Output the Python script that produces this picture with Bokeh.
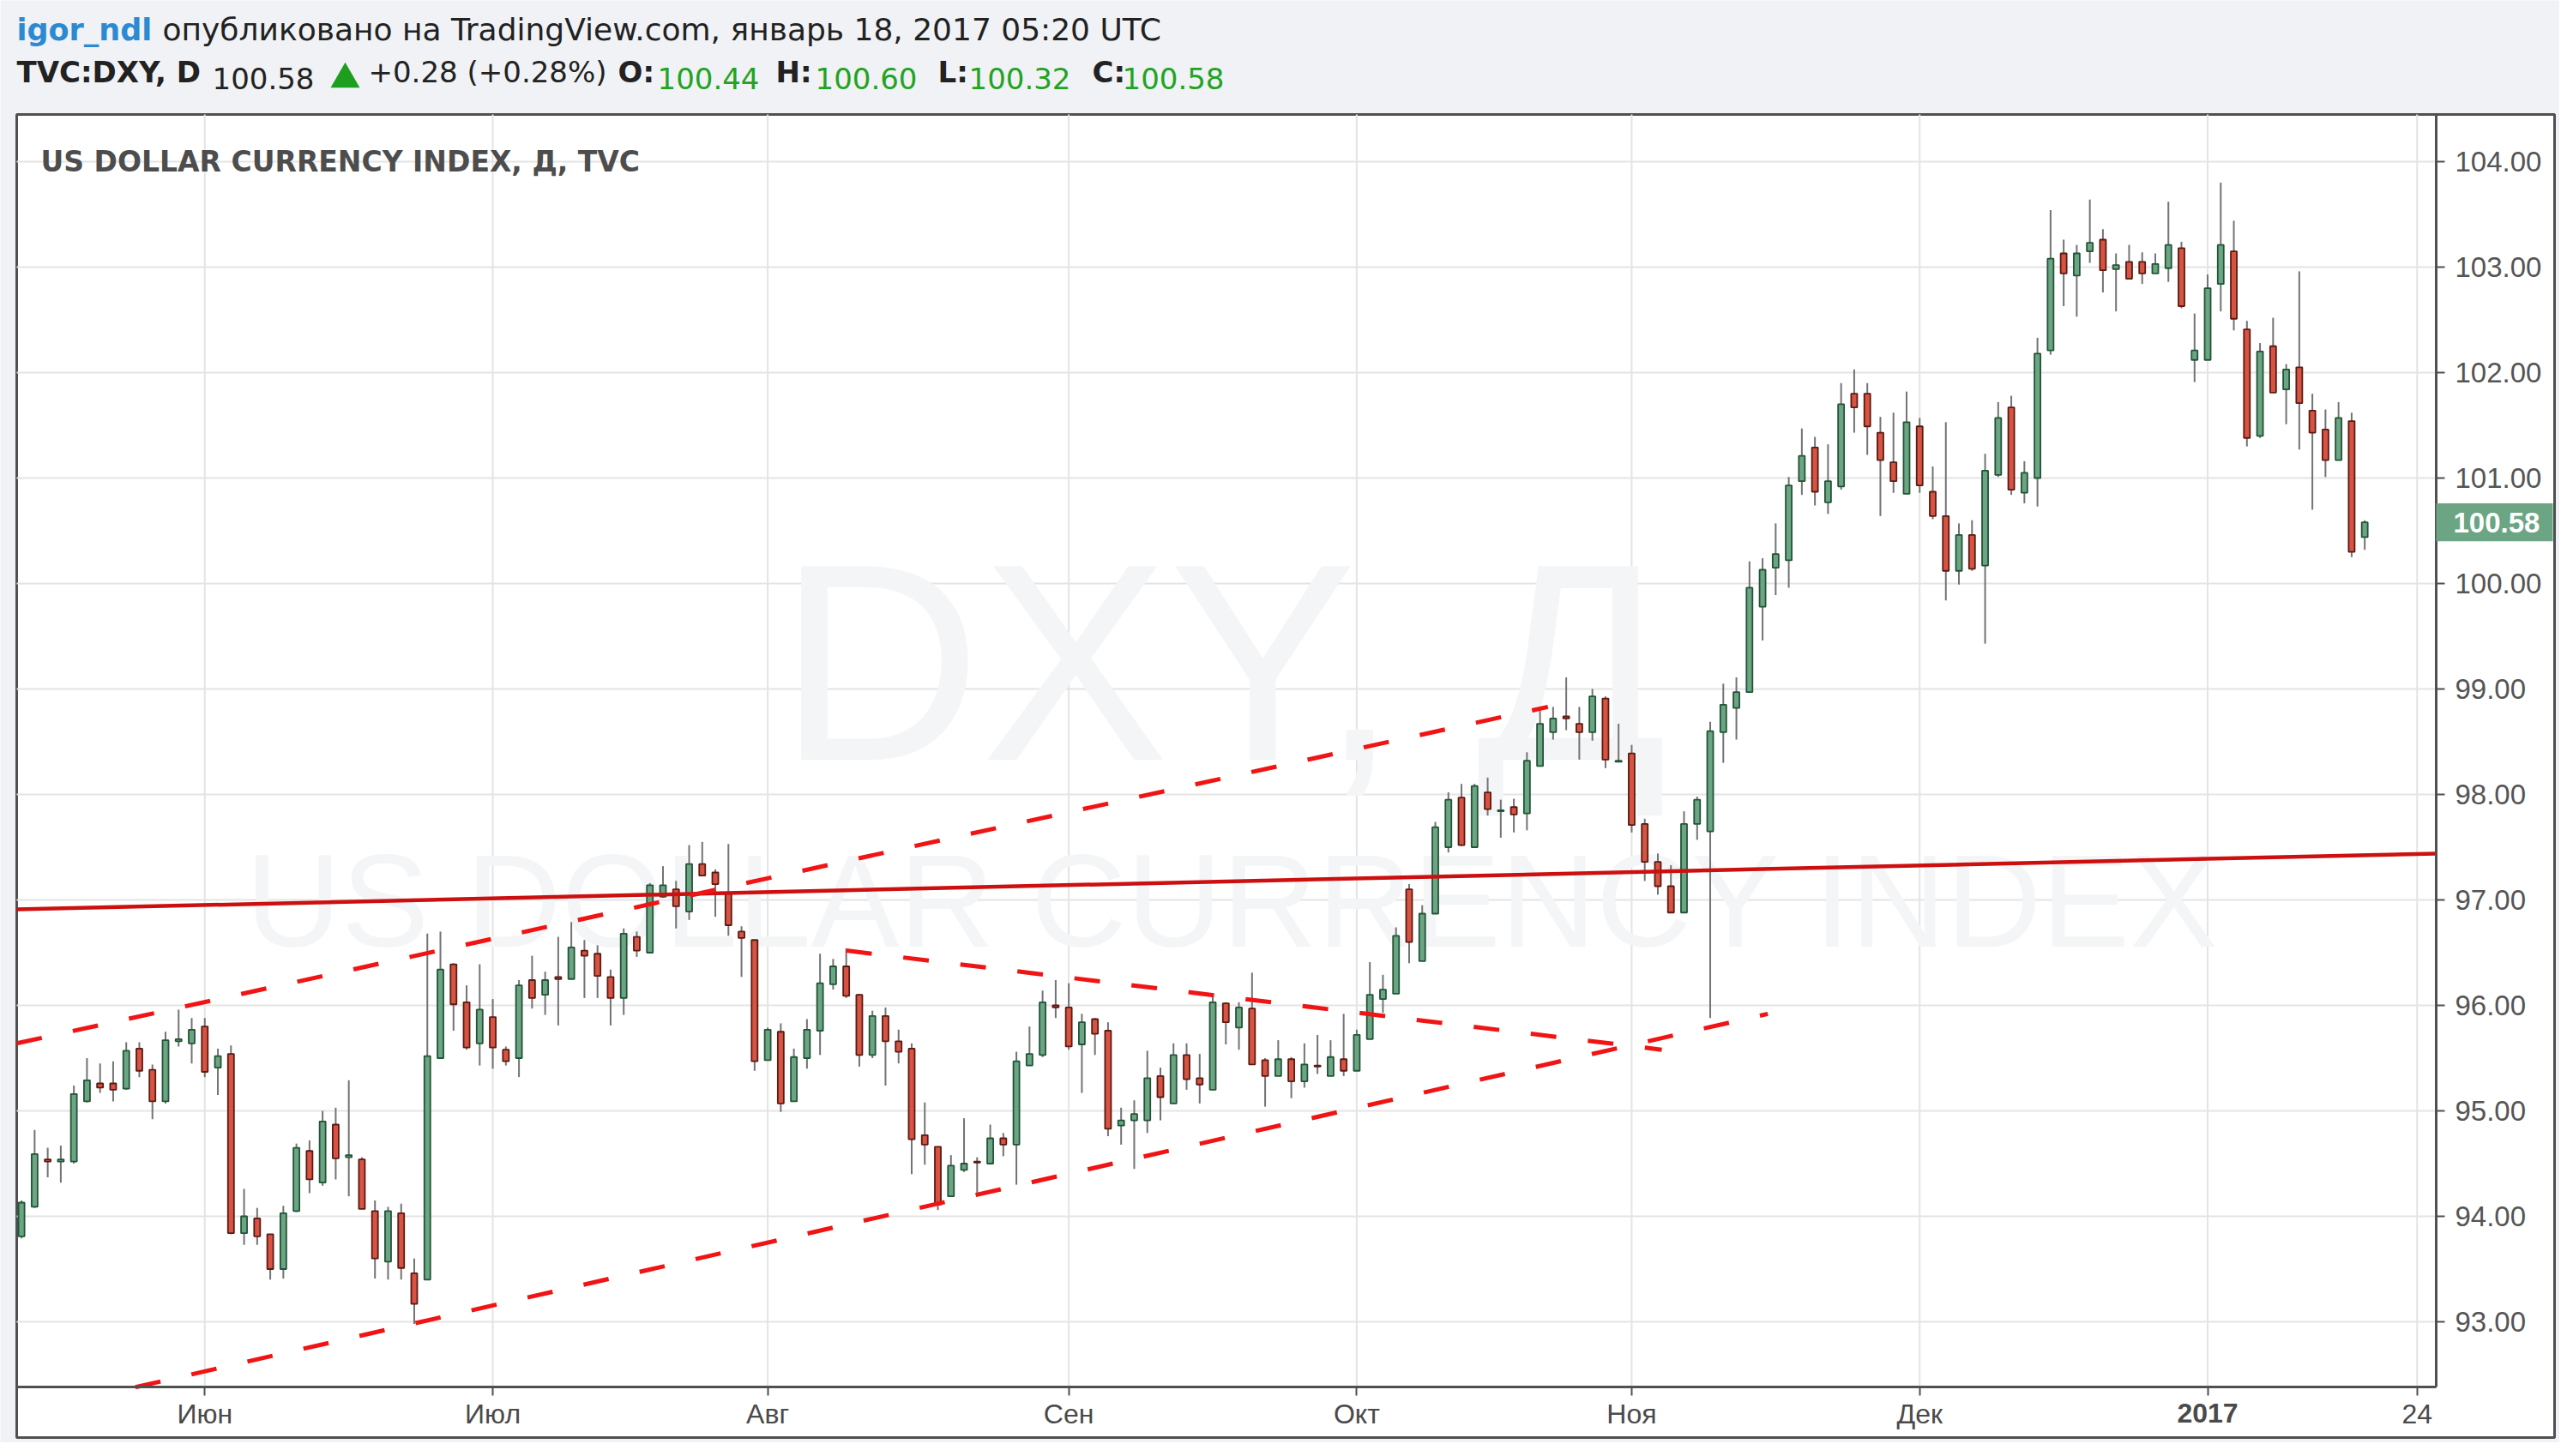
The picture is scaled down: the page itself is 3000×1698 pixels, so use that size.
import pandas as pd
from bokeh.plotting import figure
from bokeh.models import (Range1d, LinearAxis, FixedTicker, NumeralTickFormatter,
                          ColumnDataSource)
from bokeh.core.properties import value
from bokeh.embed import file_html
from bokeh.resources import INLINE

# ---------------- data ----------------
START_DATE = "2016-05-12"   # first daily candle; one candle per weekday

OPEN = [93.81, 94.09, 94.54, 94.52, 94.52, 95.09, 95.26, 95.26, 95.21, 95.59,
        95.39, 95.09, 95.66, 95.64, 95.80, 95.41, 95.54, 93.84, 93.98, 93.83,
        93.50, 94.05, 94.62, 94.32, 94.87, 94.56, 94.54, 94.05, 93.57, 94.03,
        93.46, 93.40, 95.50, 96.39, 96.03, 95.64, 95.89, 95.58, 95.50, 96.24,
        96.10, 96.27, 96.25, 96.52, 96.49, 96.27, 96.07, 96.65, 96.50, 97.03,
        97.10, 96.89, 97.34, 97.26, 97.07, 96.70, 96.62, 95.48, 95.75, 95.09,
        95.50, 95.76, 96.20, 96.37, 96.10, 95.53, 95.90, 95.66, 95.59, 94.77,
        94.66, 94.19, 94.44, 94.52, 94.50, 94.74, 94.68, 95.43, 95.53, 96.00,
        95.98, 95.63, 95.87, 95.76, 94.86, 94.91, 94.91, 95.33, 95.07, 95.53,
        95.31, 95.20, 96.02, 95.79, 95.97, 95.48, 95.33, 95.49, 95.28, 95.43,
        95.33, 95.49, 95.38, 95.68, 96.06, 96.11, 97.10, 96.42, 96.87, 97.50,
        97.97, 97.50, 98.02, 97.84, 97.88, 97.82, 98.27, 98.59, 98.74, 98.67,
        98.59, 98.91, 98.31, 98.39, 97.72, 97.36, 97.13, 96.88, 97.72, 97.65,
        98.59, 98.82, 98.97, 99.78, 100.15, 100.22, 100.97, 101.29, 100.77, 100.92,
        101.80, 101.80, 101.43, 101.15, 100.85, 101.49, 100.87, 100.64, 100.12, 100.46,
        100.17, 101.03, 101.67, 100.86, 101.00, 102.21, 103.13, 102.92, 103.15, 103.26,
        102.98, 103.05, 103.05, 102.94, 102.99, 103.18, 102.12, 102.12, 102.84, 103.15,
        102.41, 101.40, 102.25, 101.84, 102.05, 101.64, 101.46, 101.17, 101.54, 100.44]

HIGH = [94.15, 94.82, 94.65, 94.67, 95.24, 95.50, 95.45, 95.47, 95.65, 95.65,
        95.44, 95.75, 95.96, 95.88, 95.88, 95.59, 95.62, 94.26, 94.08, 93.83,
        94.10, 94.69, 94.72, 95.00, 95.03, 95.29, 94.56, 94.15, 94.09, 94.12,
        93.60, 96.68, 96.70, 96.40, 96.19, 96.39, 96.06, 95.61, 96.24, 96.47,
        96.32, 96.65, 96.79, 96.62, 96.57, 96.34, 96.73, 96.70, 97.16, 97.32,
        97.18, 97.52, 97.55, 97.29, 97.53, 96.75, 96.62, 95.79, 95.83, 95.59,
        95.87, 96.49, 96.44, 96.54, 96.11, 95.95, 95.98, 95.77, 95.64, 95.08,
        94.66, 94.58, 94.93, 94.56, 94.87, 94.79, 95.56, 95.80, 96.14, 96.24,
        96.21, 95.92, 95.88, 95.84, 95.03, 95.10, 95.57, 95.41, 95.64, 95.64,
        95.54, 96.09, 96.03, 96.03, 96.31, 95.50, 95.67, 95.51, 95.64, 95.72,
        95.67, 95.92, 95.77, 96.41, 96.29, 96.74, 97.15, 96.95, 97.74, 98.02,
        98.10, 98.10, 98.16, 97.95, 97.96, 98.40, 98.80, 98.83, 99.11, 98.83,
        99.00, 98.93, 98.67, 98.47, 97.77, 97.44, 97.33, 97.84, 97.98, 98.69,
        99.05, 99.11, 100.21, 100.24, 100.57, 101.01, 101.47, 101.39, 101.32, 101.90,
        102.03, 101.90, 101.58, 101.62, 101.82, 101.57, 101.11, 101.53, 100.57, 100.60,
        101.23, 101.72, 101.78, 101.16, 102.33, 103.54, 103.26, 103.21, 103.64, 103.36,
        103.13, 103.21, 103.14, 103.13, 103.62, 103.24, 102.56, 102.93, 103.80, 103.44,
        102.49, 102.28, 102.52, 102.08, 102.96, 101.80, 101.65, 101.72, 101.62, 100.60]

LOW = [93.79, 94.08, 94.37, 94.32, 94.50, 95.08, 95.17, 95.09, 95.20, 95.32,
       94.92, 95.07, 95.61, 95.45, 95.32, 95.15, 93.83, 93.73, 93.73, 93.40,
       93.41, 94.04, 94.22, 94.29, 94.35, 94.19, 94.07, 93.41, 93.40, 93.40,
       92.98, 93.40, 95.50, 95.76, 95.58, 95.43, 95.40, 95.43, 95.32, 95.97,
       95.91, 95.81, 96.25, 96.07, 96.07, 95.81, 95.91, 96.46, 96.50, 97.02,
       96.73, 96.81, 97.23, 96.84, 96.66, 96.27, 95.38, 95.48, 94.99, 95.09,
       95.40, 95.53, 96.15, 96.07, 95.42, 95.50, 95.24, 95.45, 94.40, 94.49,
       94.06, 94.19, 94.42, 94.20, 94.50, 94.57, 94.30, 95.43, 95.51, 95.88,
       95.58, 95.17, 95.53, 94.76, 94.68, 94.45, 94.79, 94.91, 95.07, 95.20,
       95.07, 95.20, 95.63, 95.58, 95.44, 95.04, 95.33, 95.12, 95.22, 95.35,
       95.33, 95.33, 95.38, 95.68, 95.93, 96.11, 96.40, 96.42, 96.87, 97.45,
       97.51, 97.50, 97.80, 97.59, 97.64, 97.66, 98.27, 98.52, 98.61, 98.33,
       98.51, 98.25, 98.31, 97.64, 97.18, 97.05, 96.88, 96.88, 97.57, 95.88,
       98.30, 98.52, 98.97, 99.46, 99.89, 99.96, 100.84, 100.74, 100.66, 100.89,
       101.43, 101.22, 100.64, 100.86, 100.85, 100.86, 100.61, 99.84, 99.99, 100.12,
       99.43, 101.01, 100.84, 100.76, 100.73, 102.17, 102.63, 102.53, 103.04, 102.76,
       102.58, 102.89, 102.84, 102.94, 102.86, 102.61, 101.91, 102.12, 102.58, 102.40,
       101.30, 101.38, 101.81, 101.51, 101.27, 100.70, 101.01, 101.17, 100.25, 100.32]

CLOSE = [94.13, 94.59, 94.52, 94.54, 95.16, 95.29, 95.22, 95.20, 95.57, 95.38,
         95.09, 95.67, 95.68, 95.77, 95.37, 95.52, 93.84, 94.00, 93.81, 93.50,
         94.03, 94.65, 94.35, 94.90, 94.55, 94.58, 94.07, 93.60, 94.05, 93.51,
         93.17, 95.52, 96.34, 96.01, 95.60, 95.96, 95.60, 95.47, 96.19, 96.07,
         96.24, 96.25, 96.55, 96.47, 96.28, 96.07, 96.68, 96.52, 97.14, 97.14,
         96.94, 97.34, 97.23, 97.15, 96.76, 96.64, 95.47, 95.77, 95.07, 95.51,
         95.77, 96.21, 96.37, 96.09, 95.53, 95.90, 95.66, 95.56, 94.73, 94.68,
         94.11, 94.48, 94.50, 94.51, 94.74, 94.68, 95.47, 95.54, 96.03, 95.98,
         95.61, 95.84, 95.73, 94.83, 94.91, 94.97, 95.31, 95.13, 95.53, 95.30,
         95.25, 96.03, 95.84, 95.98, 95.44, 95.33, 95.49, 95.28, 95.44, 95.42,
         95.51, 95.38, 95.72, 96.10, 96.15, 96.66, 96.60, 96.87, 97.69, 97.95,
         97.52, 98.08, 97.86, 97.85, 97.81, 98.32, 98.67, 98.72, 98.72, 98.59,
         98.93, 98.33, 98.32, 97.71, 97.36, 97.13, 96.88, 97.72, 97.95, 98.60,
         98.85, 98.97, 99.96, 100.13, 100.28, 100.93, 101.21, 100.87, 100.97, 101.70,
         101.67, 101.49, 101.17, 100.97, 101.53, 100.93, 100.64, 100.12, 100.46, 100.14,
         101.07, 101.57, 100.89, 101.05, 102.18, 103.08, 102.94, 103.13, 103.23, 102.97,
         103.02, 102.89, 102.94, 103.03, 103.21, 102.63, 102.21, 102.80, 103.21, 102.51,
         101.38, 102.20, 101.81, 102.03, 101.71, 101.43, 101.17, 101.57, 100.30, 100.58]

PRICE_TICKS = [93, 94, 95, 96, 97, 98, 99, 100, 101, 102, 103, 104]
TIME_TICK_DATES = ["2016-06-01", "2016-07-01", "2016-08-01", "2016-09-01", "2016-10-03",
                   "2016-11-01", "2016-12-01", "2017-01-02", "2017-01-24"]
TIME_TICK_LABELS = ["Июн", "Июл", "Авг", "Сен", "Окт", "Ноя", "Дек", "2017", "24"]

# hand-drawn lines on the chart: (candle index, price)
RESIST_X, RESIST_Y = [-0.37, 184.45], [96.91, 97.44]
CH_TOP_X, CH_TOP_Y = [-0.37, 116.6], [95.64, 98.83]
CH_BOT_X, CH_BOT_Y = [8.7, 133.4], [92.38, 95.92]
TRI_X, TRI_Y = [63.0, 125.3], [96.52, 95.58]

AUTHOR = "igor_ndl"
PUBLISHED = "опубликовано на TradingView.com, январь 18, 2017 05:20 UTC"
SYMBOL = "TVC:DXY, D"
CHART_TITLE = "US DOLLAR CURRENCY INDEX, Д, TVC"
WM_BIG = "DXY, Д"
WM_SMALL = "US DOLLAR CURRENCY INDEX"

# ---------------- layout (image pixels) ----------------
FIG_W, FIG_H, OFF = 2984, 1682, 0
X0_PX, STEP_PX = 24.6, 15.263        # image x of candle 0, px per candle
Y104_PX, UNIT_PX = 188.0, 123.0      # image y of 104.00, px per 1.00
BOX_L, BOX_T, BOX_R, BOX_B = 19, 133, 2978, 1676
PLOT_R, PLOT_B = 2840, 1617


def ix(px):
    return (px - X0_PX) / STEP_PX


def pr(py):
    return 104.0 - (py - Y104_PX) / UNIT_PX


PAGE_BG = "#f0f2f5"
FRAME = "#505050"
GRID = "#e4e4e4"
UP_FILL, UP_LINE = "#6ba583", "#225437"
DN_FILL, DN_LINE = "#d75442", "#5b1a13"
WICK = "#737375"
VAL_GREEN = "#22a322"

n = len(OPEN)
dates = pd.bdate_range(START_DATE, periods=n)
tick_idx = [len(pd.bdate_range(START_DATE, d)) - 1 for d in TIME_TICK_DATES]

p = figure(width=FIG_W, height=FIG_H, output_backend="svg", toolbar_location=None,
           x_range=Range1d(ix(OFF), ix(OFF + FIG_W)),
           y_range=Range1d(pr(OFF + FIG_H), pr(OFF)),
           x_axis_type=None, y_axis_type=None, min_border=0)
p.min_border_left = p.min_border_right = p.min_border_top = p.min_border_bottom = 0
p.title.visible = False
p.outline_line_color = None
p.background_fill_color = PAGE_BG
p.border_fill_color = PAGE_BG
p.extra_x_ranges = {"px": Range1d(OFF, OFF + FIG_W)}
p.extra_y_ranges = {"py": Range1d(OFF + FIG_H, OFF)}
PX = dict(x_range_name="px", y_range_name="py")

# chart box
p.quad(left=[BOX_L], right=[BOX_R], top=[BOX_T], bottom=[BOX_B], fill_color="white",
       line_color=FRAME, line_width=3, **PX)

# grid
xl, xr = ix(BOX_L), ix(PLOT_R)
yb, yt = pr(PLOT_B), pr(BOX_T)
p.segment(x0=[xl] * len(PRICE_TICKS), x1=[xr] * len(PRICE_TICKS), y0=PRICE_TICKS,
          y1=PRICE_TICKS, line_color=GRID, line_width=2)
p.segment(x0=tick_idx, x1=tick_idx, y0=[yb] * len(tick_idx), y1=[yt] * len(tick_idx),
          line_color=GRID, line_width=2)

# watermark
p.text(x=[ix(1425)], y=[pr(772)], text=[WM_BIG], text_align="center", text_baseline="middle",
       text_font=value("Liberation Sans"), text_font_size="328px", text_color="#f4f5f7")
p.text(x=[ix(1437)], y=[pr(1050)], text=[WM_SMALL], text_align="center",
       text_baseline="middle", text_font=value("Liberation Sans"), text_font_size="154px",
       text_color="#f4f5f7")

# candles
up = [c >= o for o, c in zip(OPEN, CLOSE)]
src = ColumnDataSource(dict(
    x=list(range(n)), date=[d.strftime("%Y-%m-%d") for d in dates],
    high=HIGH, low=LOW,
    top=[max(o, c) for o, c in zip(OPEN, CLOSE)],
    bottom=[min(o, c) for o, c in zip(OPEN, CLOSE)],
    fill=[UP_FILL if u else DN_FILL for u in up],
    line=[UP_LINE if u else DN_LINE for u in up]))
p.segment(x0="x", x1="x", y0="low", y1="high", line_color=WICK, line_width=2, source=src)
p.vbar(x="x", width=0.46, top="top", bottom="bottom", fill_color="fill",
       line_color="line", line_width=1.8, source=src)

# drawn lines
p.line(RESIST_X, RESIST_Y, line_color="#cc1010", line_width=4.5)
for xs, ys in ((CH_TOP_X, CH_TOP_Y), (CH_BOT_X, CH_BOT_Y), (TRI_X, TRI_Y)):
    p.line(xs, ys, line_color="#f01414", line_width=5, line_dash="30 37")

# plot-area separators
p.segment(x0=[PLOT_R, BOX_L], y0=[BOX_T, PLOT_B], x1=[PLOT_R, PLOT_R], y1=[PLOT_B, PLOT_B],
          line_color=FRAME, line_width=3, **PX)

# axes
yax = LinearAxis(fixed_location=ix(PLOT_R), bounds=(pr(PLOT_B), pr(BOX_T)),
                 ticker=FixedTicker(ticks=PRICE_TICKS),
                 formatter=NumeralTickFormatter(format="0.00"))
yax.axis_line_color = None
yax.major_tick_in = 0
yax.major_tick_out = 10
yax.major_tick_line_color = FRAME
yax.major_tick_line_width = 2
yax.minor_tick_line_color = None
yax.major_label_standoff = 12
yax.major_label_text_font = "Liberation Sans"
yax.major_label_text_font_size = "33px"
yax.major_label_text_color = "#555555"
p.add_layout(yax, "right")

overrides = {t: lab for t, lab in zip(tick_idx, TIME_TICK_LABELS)}
bold_idx = TIME_TICK_LABELS.index("2017")
overrides[tick_idx[bold_idx]] = ""
xax = LinearAxis(fixed_location=pr(PLOT_B), bounds=(ix(BOX_L), ix(PLOT_R)),
                 ticker=FixedTicker(ticks=tick_idx), major_label_overrides=overrides)
xax.axis_line_color = None
xax.major_tick_in = 0
xax.major_tick_out = 10
xax.major_tick_line_color = FRAME
xax.major_tick_line_width = 2
xax.minor_tick_line_color = None
xax.major_label_standoff = 3
xax.major_label_text_font = "Liberation Sans"
xax.major_label_text_font_size = "32px"
xax.major_label_text_color = "#4a4a4a"
p.add_layout(xax, "below")
p.text(x=[tick_idx[bold_idx]], y=[pr(1647)], text=[TIME_TICK_LABELS[bold_idx]],
       text_align="center", text_baseline="middle", text_font=value("Liberation Sans"),
       text_font_size="32px", text_font_style="bold", text_color="#4a4a4a")

# last price tag
last = CLOSE[-1]
p.quad(left=[ix(PLOT_R)], right=[ix(BOX_R - 2)], top=[last + 0.18], bottom=[last - 0.18],
       fill_color=UP_FILL, line_color=None)
p.text(x=[ix(PLOT_R)], y=[last], text=[f"{last:.2f}"], x_offset=20, text_baseline="middle",
       text_font=value("Liberation Sans"), text_font_size="33px", text_font_style="bold",
       text_color="white")

# chart title inside the plot
p.text(x=[47], y=[207], text=[CHART_TITLE], text_font=value("DejaVu Sans"),
       text_font_size="33px", text_font_style="bold", text_color="#4d4d4d", **PX)

# header
HF = value("DejaVu Sans")
p.text(x=[19], y=[54], text=[AUTHOR], text_font=HF, text_font_size="35px",
       text_font_style="bold", text_color="#2b8ad1", **PX)
p.text(x=[189], y=[54], text=[PUBLISHED], text_font=HF, text_font_size="36px",
       text_color="#222222", **PX)

chg = CLOSE[-1] - CLOSE[-2]
pct = chg / CLOSE[-2] * 100
seg = [
    (19, SYMBOL, "bold", "#222222"),
    (247, f"{CLOSE[-1]:.2f}", "normal", "#222222"),
    (429, f"{chg:+.2f} ({pct:+.2f}%)", "normal", "#222222"),
    (720, "O:", "bold", "#222222"), (766, f"{OPEN[-1]:.2f}", "normal", VAL_GREEN),
    (904, "H:", "bold", "#222222"), (950, f"{HIGH[-1]:.2f}", "normal", VAL_GREEN),
    (1093, "L:", "bold", "#222222"), (1129, f"{LOW[-1]:.2f}", "normal", VAL_GREEN),
    (1273, "C:", "bold", "#222222"), (1308, f"{CLOSE[-1]:.2f}", "normal", VAL_GREEN),
]
for xp, t, st, col in seg:
    p.text(x=[xp], y=[103], text=[t], text_font=HF, text_font_size="34px",
           text_font_style=st, text_color=col, **PX)
p.scatter(x=[402], y=[92], marker="triangle", size=34, fill_color="#1e9e1e",
          line_color=None, **PX)

open("out.html", "w").write(file_html(p, INLINE))
